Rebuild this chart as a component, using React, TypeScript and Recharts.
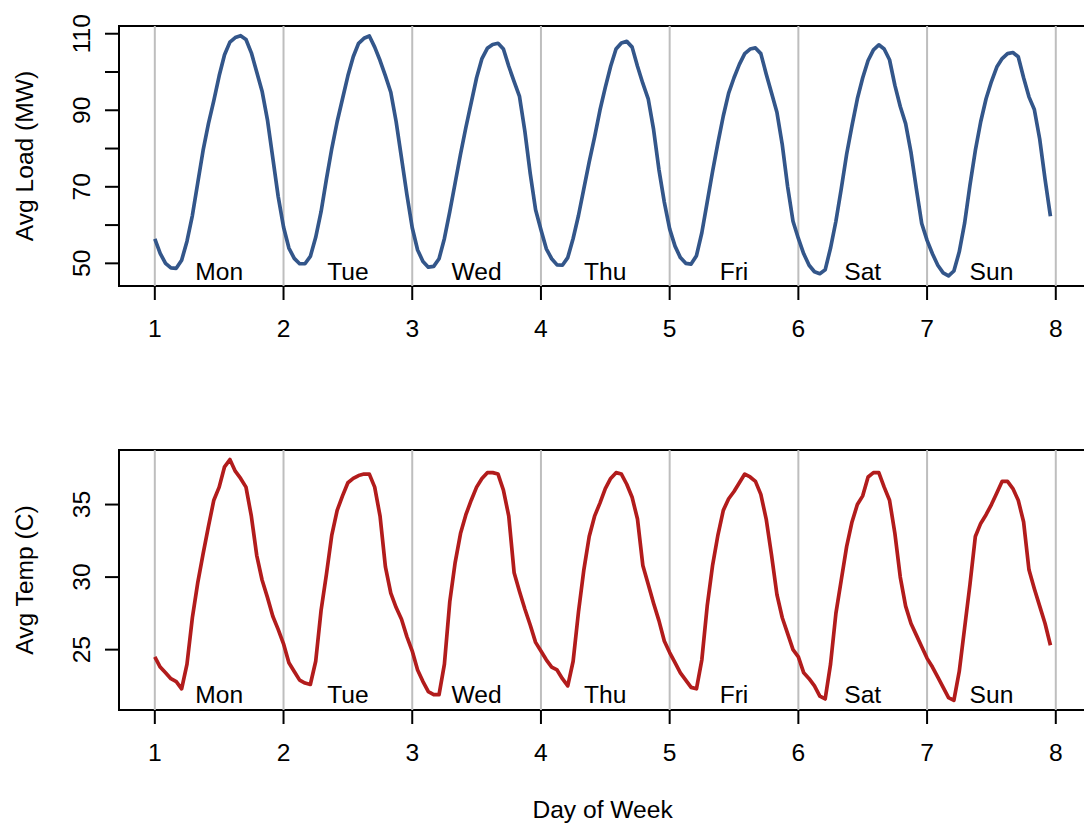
import React from 'react';
import {
  ComposedChart,
  Line,
  Scatter,
  XAxis,
  YAxis,
  ReferenceLine,
  ReferenceArea,
  Label,
} from 'recharts';

// ---- data -------------------------------------------------------------

const dayNames = ['Mon', 'Tue', 'Wed', 'Thu', 'Fri', 'Sat', 'Sun'];
const dayTicks = [1, 2, 3, 4, 5, 6, 7, 8];

// Hourly average load (MW), hours 0..23 of each day
const loadMon = [56.4, 52.6, 50.0, 48.8, 48.7, 50.8, 55.8, 62.5, 71.0, 79.5, 86.5, 92.5, 99.0, 104.5, 107.8, 109.0, 109.5, 108.5, 105.0, 100.0, 95.0, 87.5, 77.5, 67.5];
const loadTue = [59.5, 54.0, 51.3, 49.9, 49.9, 51.8, 56.8, 63.5, 72.0, 80.0, 87.0, 93.0, 99.0, 104.0, 107.5, 108.8, 109.4, 106.5, 103.0, 99.0, 94.7, 87.0, 77.5, 68.0];
const loadWed = [59.3, 53.5, 50.5, 49.0, 49.2, 51.2, 56.5, 63.5, 71.0, 78.5, 85.5, 92.0, 98.5, 103.5, 106.2, 107.2, 107.5, 106.0, 101.5, 97.5, 93.6, 84.5, 73.5, 64.0];
const loadThu = [58.8, 53.8, 51.2, 49.6, 49.5, 51.5, 56.5, 62.5, 69.5, 76.5, 83.0, 90.0, 96.0, 101.5, 106.0, 107.6, 108.0, 106.5, 101.5, 97.0, 93.0, 85.0, 74.5, 66.0];
const loadFri = [59.0, 54.5, 51.5, 50.0, 49.8, 52.0, 58.0, 66.0, 74.0, 81.5, 88.5, 94.5, 98.5, 102.0, 104.8, 106.0, 106.3, 104.8, 99.5, 94.5, 89.5, 81.0, 70.0, 61.0];
const loadSat = [56.5, 52.5, 49.5, 47.8, 47.3, 48.3, 54.0, 61.0, 69.5, 78.5, 86.0, 93.0, 98.5, 103.0, 105.8, 107.1, 106.0, 103.2, 96.5, 91.0, 86.5, 79.0, 69.5, 60.4];
const loadSun = [56.0, 52.5, 49.5, 47.5, 46.7, 48.0, 53.0, 60.5, 70.5, 79.5, 87.0, 93.0, 97.5, 101.3, 103.5, 104.8, 105.1, 104.0, 98.5, 93.5, 90.2, 82.5, 72.0, 62.3];

// Hourly average temperature (C)
const tempMon = [24.5, 23.8, 23.4, 23.0, 22.8, 22.3, 24.0, 27.2, 29.6, 31.6, 33.5, 35.3, 36.2, 37.6, 38.1, 37.3, 36.8, 36.2, 34.2, 31.5, 29.8, 28.6, 27.3, 26.4];
const tempTue = [25.4, 24.1, 23.5, 22.9, 22.7, 22.6, 24.2, 27.7, 30.2, 32.9, 34.6, 35.6, 36.5, 36.8, 37.0, 37.1, 37.1, 36.2, 34.2, 30.7, 28.9, 27.9, 27.1, 25.9];
const tempWed = [24.9, 23.6, 22.8, 22.1, 21.9, 21.9, 24.0, 28.3, 31.0, 33.0, 34.3, 35.3, 36.2, 36.8, 37.2, 37.2, 37.1, 36.0, 34.2, 30.3, 29.0, 27.8, 26.7, 25.5];
const tempThu = [24.9, 24.3, 23.8, 23.6, 23.0, 22.5, 24.2, 27.6, 30.5, 32.8, 34.2, 35.1, 36.1, 36.8, 37.2, 37.1, 36.4, 35.5, 34.0, 30.8, 29.5, 28.2, 27.0, 25.6];
const tempFri = [24.8, 24.1, 23.4, 22.9, 22.4, 22.3, 24.3, 28.0, 30.8, 32.9, 34.6, 35.4, 35.9, 36.5, 37.1, 36.9, 36.6, 35.7, 34.0, 31.5, 28.8, 27.2, 26.1, 25.0];
const tempSat = [24.5, 23.4, 23.0, 22.5, 21.8, 21.6, 24.0, 27.5, 29.8, 32.1, 33.8, 35.0, 35.6, 36.9, 37.2, 37.2, 36.2, 35.3, 33.0, 30.0, 28.0, 26.8, 26.0, 25.2];
const tempSun = [24.4, 23.8, 23.1, 22.4, 21.7, 21.5, 23.5, 26.5, 29.5, 32.8, 33.7, 34.3, 35.0, 35.8, 36.6, 36.6, 36.1, 35.3, 33.8, 30.5, 29.2, 28.0, 26.8, 25.3];

const loadTicks = [50, 60, 70, 80, 90, 100, 110];
const loadTickLabels = [50, 70, 90, 110];
const tempTicks = [25, 30, 35];
const tempTickLabels = [25, 30, 35];

// vertical position of the weekday captions, in data units
const loadCaptionLevel = 47.9;
const tempCaptionLevel = 21.95;

// ---- assembly ---------------------------------------------------------

const loadDays = [loadMon, loadTue, loadWed, loadThu, loadFri, loadSat, loadSun];
const tempDays = [tempMon, tempTue, tempWed, tempThu, tempFri, tempSat, tempSun];

type Row = { t: number; value: number };

// day d (1-based), hour h -> x = d + h/24
function hourly(days: number[][]): Row[] {
  const rows: Row[] = [];
  days.forEach((vals, d) => {
    vals.forEach((v, h) => rows.push({ t: d + 1 + h / 24, value: v }));
  });
  return rows;
}

function captions(level: number) {
  return dayNames.map((name, i) => ({ t: i + 1.5, value: level, name }));
}

const loadRows = hourly(loadDays);
const tempRows = hourly(tempDays);

// axis ranges: data range padded by 4% on each side
const X_MIN = 0.7217;
const X_MAX = 8.2363;
const LOAD_DOMAIN: [number, number] = [44.08, 112.02];
const TEMP_DOMAIN: [number, number] = [20.84, 38.76];

// ---- drawing ----------------------------------------------------------

const FONT = '"Liberation Sans", Arial, Helvetica, sans-serif';
const FS = 24.6;
const CHART_W = 1120;
const PLOT_LEFT = 119;
const PLOT_RIGHT = 1086.2;
const PLOT_TOP = 26;
const PLOT_H = 260;
const LINE_W = 3.7;

const XTick = (p: any) => (
  <text x={p.x} y={p.y + 17} textAnchor="middle" fontSize={FS} fontFamily={FONT} fill="#000">
    {p.payload.value}
  </text>
);

const makeYTick = (shown: number[]) => (p: any) => {
  if (!shown.includes(p.payload.value)) return <g />;
  return (
    <text
      x={p.x}
      y={p.y}
      transform={`rotate(-90, ${p.x}, ${p.y})`}
      textAnchor="middle"
      fontSize={FS}
      fontFamily={FONT}
      fill="#000"
    >
      {p.payload.value}
    </text>
  );
};

const CaptionShape = (p: any) => (
  <text x={p.cx} y={p.cy + 8.8} textAnchor="middle" fontSize={FS} fontFamily={FONT} fill="#000">
    {p.payload.name}
  </text>
);

type PanelProps = {
  rows: Row[];
  color: string;
  domain: [number, number];
  ticks: number[];
  tickLabels: number[];
  title: string;
  captionLevel: number;
  height: number;
  xTitle?: string;
};

function Panel({ rows, color, domain, ticks, tickLabels, title, captionLevel, height, xTitle }: PanelProps) {
  const xAxisH = height - PLOT_TOP - PLOT_H;
  return (
    <ComposedChart
      width={CHART_W}
      height={height}
      data={rows}
      margin={{ top: PLOT_TOP, right: CHART_W - PLOT_RIGHT, left: 0, bottom: 0 }}
    >
      {dayTicks.map((d) => (
        <ReferenceLine key={d} x={d} stroke="#bebebe" strokeWidth={2} />
      ))}
      <XAxis
        type="number"
        dataKey="t"
        domain={[X_MIN, X_MAX]}
        allowDataOverflow
        ticks={dayTicks}
        interval={0}
        height={xAxisH}
        axisLine={false}
        tickSize={14}
        tickMargin={20}
        tickLine={{ stroke: '#000', strokeWidth: 2 }}
        tick={XTick}
      >
        {xTitle ? (
          <Label
            content={(lp: any) => {
              const vb = lp.viewBox || {};
              return (
                <text
                  x={vb.x + vb.width / 2}
                  y={vb.y + 108}
                  textAnchor="middle"
                  fontSize={FS}
                  fontFamily={FONT}
                  fill="#000"
                >
                  {xTitle}
                </text>
              );
            }}
          />
        ) : null}
      </XAxis>
      <YAxis
        type="number"
        domain={domain}
        allowDataOverflow
        ticks={ticks}
        interval={0}
        width={PLOT_LEFT}
        axisLine={false}
        tickSize={14}
        tickMargin={15}
        tickLine={{ stroke: '#000', strokeWidth: 2 }}
        tick={makeYTick(tickLabels)}
      >
        <Label
          content={(lp: any) => {
            const vb = lp.viewBox || {};
            const cx = vb.x + 33;
            const cy = vb.y + vb.height / 2;
            return (
              <text
                x={cx}
                y={cy}
                transform={`rotate(-90, ${cx}, ${cy})`}
                textAnchor="middle"
                fontSize={FS}
                fontFamily={FONT}
                fill="#000"
              >
                {title}
              </text>
            );
          }}
        />
      </YAxis>
      <Line
        type="linear"
        dataKey="value"
        stroke={color}
        strokeWidth={LINE_W}
        strokeLinejoin="round"
        dot={false}
        activeDot={false}
        isAnimationActive={false}
      />
      <Scatter
        data={captions(captionLevel)}
        dataKey="value"
        shape={CaptionShape}
        isAnimationActive={false}
      />
      <ReferenceArea
        x1={X_MIN}
        x2={X_MAX}
        y1={domain[0]}
        y2={domain[1]}
        fill="none"
        fillOpacity={0}
        stroke="#000"
        strokeWidth={2}
        ifOverflow="visible"
      />
    </ComposedChart>
  );
}

export default function App() {
  return (
    <div
      style={{
        position: 'absolute',
        left: 0,
        top: 0,
        width: 1084,
        height: 827,
        overflow: 'hidden',
        background: '#fff',
      }}
    >
      <div style={{ position: 'absolute', left: 0, top: 0 }}>
        <Panel
          rows={loadRows}
          color="#33568a"
          domain={LOAD_DOMAIN}
          ticks={loadTicks}
          tickLabels={loadTickLabels}
          title="Avg Load (MW)"
          captionLevel={loadCaptionLevel}
          height={346}
        />
      </div>
      <div style={{ position: 'absolute', left: 0, top: 424 }}>
        <Panel
          rows={tempRows}
          color="#b21c1c"
          domain={TEMP_DOMAIN}
          ticks={tempTicks}
          tickLabels={tempTickLabels}
          title="Avg Temp (C)"
          captionLevel={tempCaptionLevel}
          height={403}
          xTitle="Day of Week"
        />
      </div>
    </div>
  );
}
